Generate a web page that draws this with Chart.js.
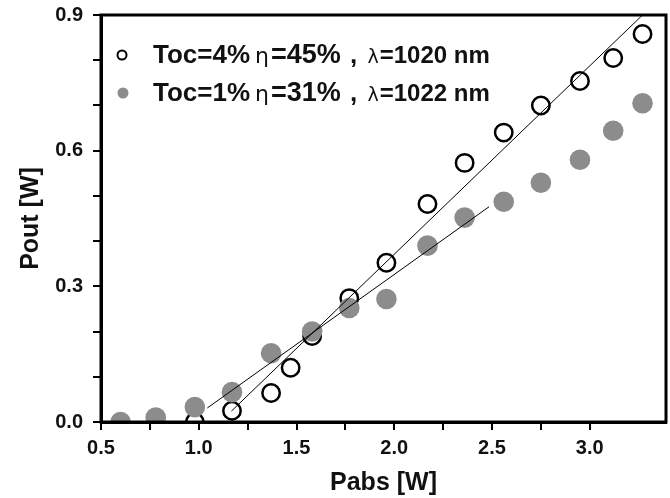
<!DOCTYPE html>
<html lang="en">
<head>
    <meta charset="UTF-8">
    <title>Pout vs Pabs</title>
    <script src="https://cdn.jsdelivr.net/npm/chart.js"></script>
    <style>
        body, html {
            margin: 0;
            padding: 0;
            width: 670px;
            height: 498px;
            overflow: hidden;
            background: #fff;
        }
        #wrap { width: 670px; height: 498px; }
    </style>
</head>
<body>
    <div id="wrap"><canvas id="powerChart"></canvas></div>

    <script>
        // Toc = 4 % (open circles)
        const pabs4 = [0.98, 1.17, 1.37, 1.47, 1.58, 1.77, 1.96, 2.17, 2.36, 2.56, 2.75, 2.95, 3.12, 3.27];
        const pout4 = [0.0, 0.025, 0.064, 0.12, 0.19, 0.274, 0.352, 0.482, 0.573, 0.64, 0.70, 0.754, 0.805, 0.858];

        // Toc = 1 % (grey dots)
        const pabs1 = [0.6, 0.78, 0.98, 1.17, 1.37, 1.58, 1.77, 1.96, 2.17, 2.36, 2.56, 2.75, 2.95, 3.12, 3.27];
        const pout1 = [0.0, 0.01, 0.033, 0.066, 0.152, 0.2, 0.252, 0.272, 0.39, 0.452, 0.487, 0.529, 0.58, 0.644, 0.705];

        // linear fits (end points)
        const fit4X = [1.167, 3.27];
        const fit4Y = [0.024, 0.9];
        const fit1X = [1.044, 2.485];
        const fit1Y = [0.031, 0.476];

        const xTickLabels = ['0.5', '1.0', '1.5', '2.0', '2.5', '3.0'];
        const yTickLabels = ['0.0', '0.3', '0.6', '0.9'];

        const legend4 = ['Toc=4%', 'η', '=45%', ' , ', 'λ', '=1020 nm'];
        const legend1 = ['Toc=1%', 'η', '=31%', ' , ', 'λ', '=1022 nm'];

        const GREY = '#8c8c8c';
        const toXY = (xs, ys) => xs.map((x, i) => ({ x: x, y: ys[i] }));

        // frame round the plot + legend with mixed fonts
        const framePlugin = {
            id: 'frame',
            afterDraw(chart) {
                const { ctx, chartArea: a } = chart;
                ctx.save();
                ctx.strokeStyle = '#000';
                ctx.lineWidth = 3;
                ctx.strokeRect(a.left, a.top, a.right - a.left, a.bottom - a.top);

                const fonts = ['bold 26px Arial', '22px "DejaVu Sans"', 'bold 27px Arial', 'bold 26px Arial', '19px "DejaVu Sans"', 'bold 24px Arial'];
                const gaps = [5, 2, 2, 3, 1, 0];
                const drawRow = (parts, x, y) => {
                    ctx.fillStyle = '#111';
                    ctx.textBaseline = 'alphabetic';
                    parts.forEach((p, i) => {
                        ctx.font = fonts[i];
                        ctx.fillText(p, x, y);
                        x += ctx.measureText(p).width + gaps[i];
                    });
                };
                // markers
                ctx.beginPath();
                ctx.lineWidth = 2;
                ctx.arc(122, 55, 4.5, 0, Math.PI * 2);
                ctx.stroke();
                ctx.beginPath();
                ctx.fillStyle = GREY;
                ctx.arc(123, 93, 5.5, 0, Math.PI * 2);
                ctx.fill();
                drawRow(legend4, 153, 63);
                drawRow(legend1, 153, 101);
                ctx.restore();
            }
        };

        const onStep = (v, step) => Math.abs(v / step - Math.round(v / step)) < 1e-6;

        const ctx = document.getElementById('powerChart').getContext('2d');
        new Chart(ctx, {
            type: 'scatter',
            data: {
                datasets: [
                    {
                        label: 'fit 4%',
                        data: toXY(fit4X, fit4Y),
                        showLine: true,
                        borderColor: '#000',
                        borderWidth: 1,
                        pointRadius: 0,
                        clip: 0,
                        order: 1
                    },
                    {
                        label: 'fit 1%',
                        data: toXY(fit1X, fit1Y),
                        showLine: true,
                        borderColor: '#000',
                        borderWidth: 1,
                        pointRadius: 0,
                        clip: 0,
                        order: 1
                    },
                    {
                        label: 'Toc=1%',
                        data: toXY(pabs1, pout1),
                        backgroundColor: GREY,
                        borderWidth: 0,
                        pointRadius: 10.3,
                        clip: 0,
                        order: 2
                    },
                    {
                        label: 'Toc=4%',
                        data: toXY(pabs4, pout4),
                        backgroundColor: 'rgba(0,0,0,0)',
                        borderColor: '#000',
                        borderWidth: 2.5,
                        pointRadius: 8.7,
                        clip: 0,
                        order: 3
                    }
                ]
            },
            options: {
                animation: false,
                responsive: true,
                maintainAspectRatio: false,
                layout: { autoPadding: false, padding: { top: 15, right: 4, left: 0, bottom: 0 } },
                plugins: {
                    legend: { display: false },
                    tooltip: { enabled: false }
                },
                scales: {
                    x: {
                        type: 'linear',
                        min: 0.5,
                        max: 3.39,
                        afterBuildTicks: s => { s.ticks = s.ticks.filter(t => onStep(t.value, 0.25)); },
                        afterFit: s => { s.height = 76; s.paddingLeft = 0; s.paddingRight = 0; },
                        ticks: {
                            stepSize: 0.25,
                            autoSkip: false,
                            maxRotation: 0,
                            padding: 6,
                            color: '#111',
                            font: { family: 'Arial', size: 20, weight: 'bold' },
                            callback: v => { const s = v.toFixed(1); return onStep(v, 0.5) && xTickLabels.includes(s) ? s : ''; }
                        },
                        grid: { drawOnChartArea: false, tickLength: 8, color: '#000', lineWidth: 2 },
                        border: { color: '#000', width: 3 },
                        title: {
                            display: true,
                            text: 'Pabs [W]',
                            color: '#111',
                            font: { family: 'Arial', size: 25, weight: 'bold' },
                            padding: { top: 0, bottom: 0 }
                        }
                    },
                    y: {
                        min: 0,
                        max: 0.9,
                        afterBuildTicks: s => { s.ticks = s.ticks.filter(t => onStep(t.value, 0.1)); },
                        afterFit: s => { s.width = 101; s.paddingTop = 0; s.paddingBottom = 0; },
                        ticks: {
                            stepSize: 0.1,
                            autoSkip: false,
                            padding: 10,
                            color: '#111',
                            font: { family: 'Arial', size: 20, weight: 'bold' },
                            callback: v => { const s = v.toFixed(1); return onStep(v, 0.3) && yTickLabels.includes(s) ? s : ''; }
                        },
                        grid: { drawOnChartArea: false, tickLength: 8, color: '#000', lineWidth: 2 },
                        border: { color: '#000', width: 3 },
                        title: {
                            display: true,
                            text: 'Pout [W]',
                            color: '#111',
                            font: { family: 'Arial', size: 25, weight: 'bold' },
                            padding: { top: 16, bottom: 0 }
                        }
                    }
                }
            },
            plugins: [framePlugin]
        });
    </script>
</body>
</html>
